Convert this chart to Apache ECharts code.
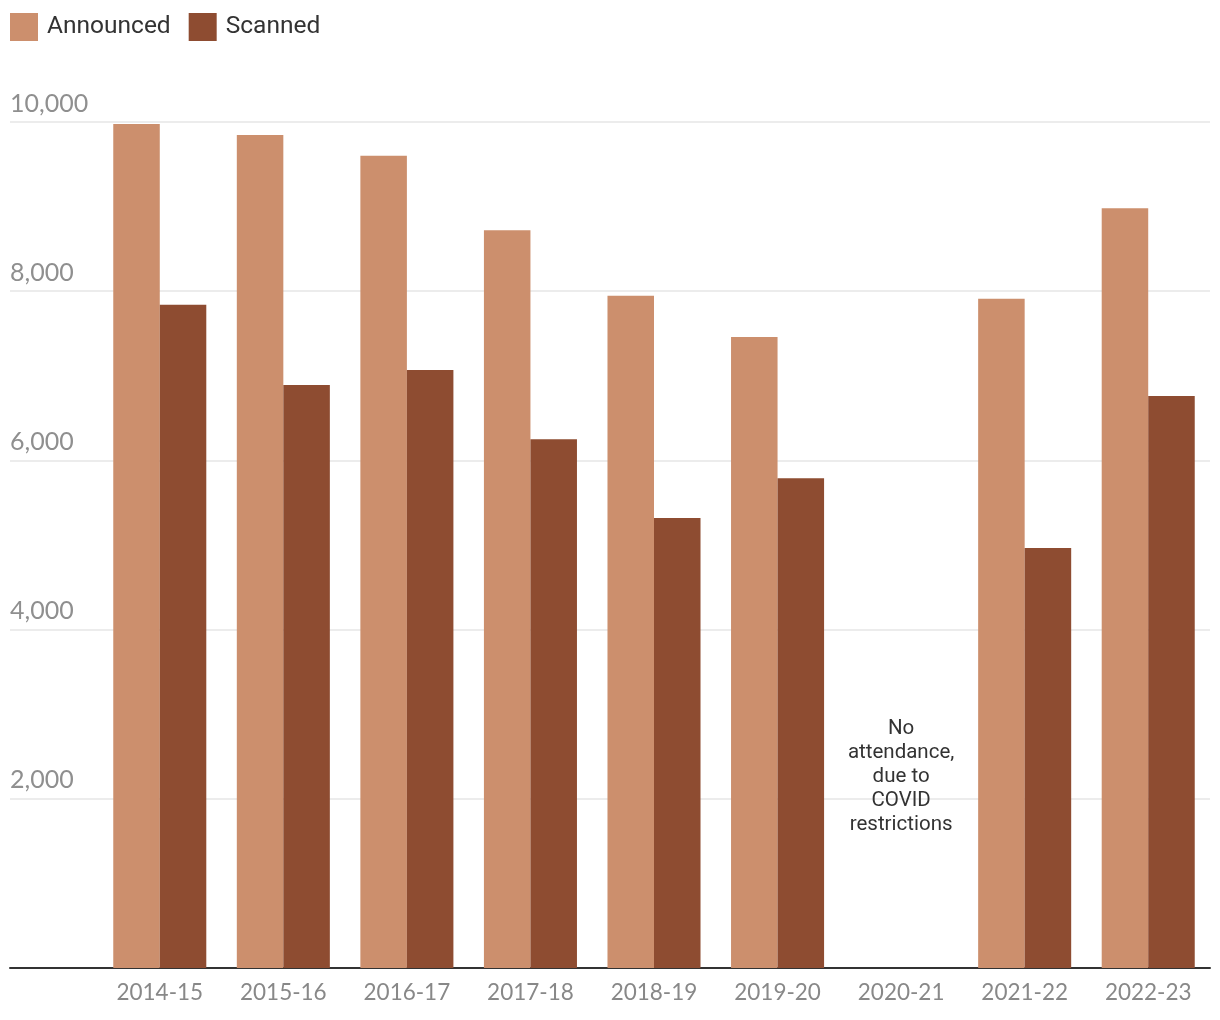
<!DOCTYPE html>
<html>
<head>
<meta charset="utf-8">
<script src="https://cdn.jsdelivr.net/npm/echarts@6/dist/echarts.min.js"></script>
<style>
html,body{margin:0;padding:0;background:#fff;}
#chart{width:1220px;height:1020px;}
</style>
</head>
<body>
<div id="chart"></div>
<script>
const categories = ['2014-15','2015-16','2016-17','2017-18','2018-19','2019-20','2020-21','2021-22','2022-23'];
const announced = [9975, 9845, 9600, 8720, 7945, 7460, null, 7910, 8980];
const scanned = [7840, 6890, 7070, 6250, 5320, 5790, null, 4965, 6760];
const yTicks = [0, 2000, 4000, 6000, 8000, 10000];
const noteCategory = '2020-21';
const noteText = 'No\nattendance,\ndue to\nCOVID\nrestrictions';

const chart = echarts.init(document.getElementById('chart'));
const axisFont = 'Lato, "Liberation Sans", sans-serif';
const textFont = 'Roboto, "Noto Sans", sans-serif';
chart.setOption({
  animation: false,
  legend: {
    left: 10, top: 9, padding: 0, itemWidth: 28, itemHeight: 28, itemGap: 18,
    icon: 'rect',
    textStyle: { fontSize: 24.5, lineHeight: 32, color: '#333', fontFamily: textFont, padding: [4, 0, 0, 4] },
    data: ['Announced', 'Scanned']
  },
  grid: [
    { left: 10, right: 10, top: 122, bottom: 52 },
    { left: 98, right: 10, top: 122, bottom: 52 }
  ],
  xAxis: [
    { type: 'value', gridIndex: 0, min: 0, max: 1, axisLine: { show: true, onZero: false, lineStyle: { color: '#333', width: 2 } },
      axisTick: { show: false }, axisLabel: { show: false }, splitLine: { show: false } },
    { type: 'category', gridIndex: 1, data: categories, axisLine: { show: false }, axisTick: { show: false },
      axisLabel: { fontSize: 22.5, color: '#888', fontFamily: axisFont, margin: 13 } }
  ],
  yAxis: [
    { type: 'value', gridIndex: 0, min: yTicks[0], max: yTicks[yTicks.length - 1], interval: 2000,
      axisLine: { show: false }, axisTick: { show: false },
      splitLine: { lineStyle: { color: '#e6e6e6', width: 1.5 } },
      axisLabel: { inside: true, verticalAlign: 'bottom', margin: 0, padding: [0, 0, 6, 0],
        fontSize: 25, color: '#8f8f8f', fontFamily: axisFont,
        formatter: v => v === 0 ? '' : v.toLocaleString('en-US') } },
    { type: 'value', gridIndex: 1, min: yTicks[0], max: yTicks[yTicks.length - 1], interval: 2000, show: false }
  ],
  series: [
    { name: 'Announced', type: 'bar', xAxisIndex: 1, yAxisIndex: 1, data: announced,
      itemStyle: { color: '#cc8f6d' }, barGap: '0%', barCategoryGap: '24.7%' },
    { name: 'Scanned', type: 'bar', xAxisIndex: 1, yAxisIndex: 1, data: scanned,
      itemStyle: { color: '#8e4c31' }, barGap: '0%', barCategoryGap: '24.7%' },
    { name: 'note', type: 'scatter', xAxisIndex: 1, yAxisIndex: 1, data: [], silent: true,
      markPoint: {
        symbol: 'rect', symbolSize: 1,
        itemStyle: { color: 'rgba(0,0,0,0)' },
        data: [{ coord: [noteCategory, 2255], value: 0 }],
        label: { show: true, position: 'inside', formatter: noteText, fontSize: 20.5, lineHeight: 24, color: '#333',
          fontFamily: textFont, align: 'center', verticalAlign: 'middle' }
      }
    }
  ]
});
</script>
</body>
</html>
